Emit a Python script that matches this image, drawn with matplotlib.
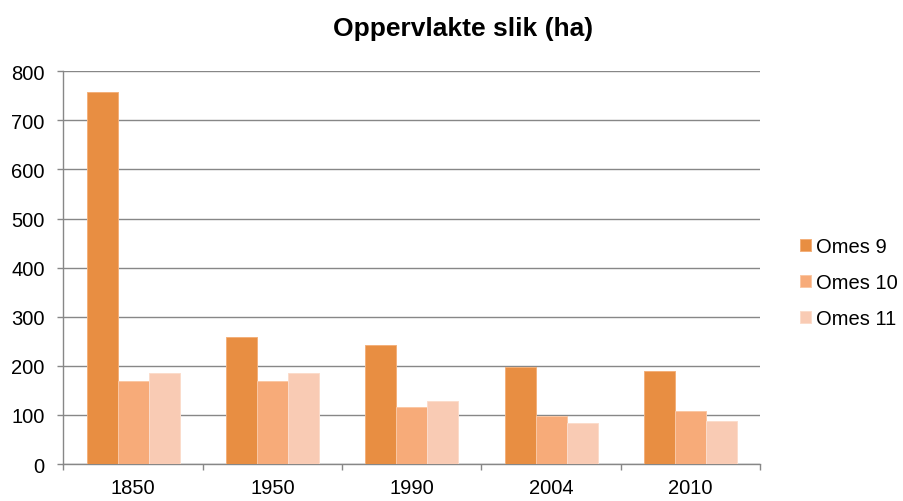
import numpy as np
import matplotlib
matplotlib.use("Agg")
import matplotlib.pyplot as plt

plt.rcParams["font.family"] = ["Liberation Sans", "DejaVu Sans"]

YEARS = ["1850", "1950", "1990", "2004", "2010"]
SERIES = ["Omes 9", "Omes 10", "Omes 11"]
OMES_9 = [758, 258, 242, 198, 190]
OMES_10 = [170, 170, 117, 97, 108]
OMES_11 = [185, 185, 128, 84, 88]

COLORS = ["#E88E42", "#F7AB79", "#F9CBB4"]
EDGES = ["#F3B07A", "#FAC7A4", "#FCDCCB"]
GRAY = "#878787"

fig = plt.figure(figsize=(9.04, 5.02), dpi=100)
ax = fig.add_axes([0.0702, 0.0737, 0.7705, 0.7823])

x = np.arange(len(YEARS))
width = 0.2225
for i, (name, vals) in enumerate(zip(SERIES, [OMES_9, OMES_10, OMES_11])):
    ax.bar(x + (i - 1) * width, vals, width, color=COLORS[i], edgecolor=EDGES[i],
           linewidth=0.7, label=name, zorder=3)

ax.set_xlim(-0.5, len(YEARS) - 0.5)
ax.set_ylim(0, 800)
ax.set_yticks(range(0, 801, 100))
ax.set_xticks(x)
ax.set_xticklabels(YEARS)
ax.set_xticks(np.arange(-0.5, len(YEARS), 1.0), minor=True)

ax.grid(axis="y", color=GRAY, linewidth=1.0, zorder=0)
ax.set_axisbelow(True)
for side in ["top", "right"]:
    ax.spines[side].set_visible(False)
for side in ["left", "bottom"]:
    ax.spines[side].set_color(GRAY)
    ax.spines[side].set_linewidth(1.0)

ax.tick_params(axis="y", length=4.5, width=1.0, color=GRAY, labelsize=14.5, pad=9)
ax.tick_params(axis="x", which="major", length=0, labelsize=14.5, pad=10)
ax.tick_params(axis="x", which="minor", length=4.5, width=1.0, color=GRAY)

fig.text(0.512, 0.943, "Oppervlakte slik (ha)", ha="center", va="center",
         fontsize=19, fontweight="bold")

ax.legend(loc="center left", bbox_to_anchor=(0.885, 0.435), bbox_transform=fig.transFigure,
          frameon=False, fontsize=14.5, handlelength=0.55, handleheight=0.55,
          handletextpad=0.25, labelspacing=0.85, borderaxespad=0, borderpad=0)

fig.savefig("out.png", dpi=100)
